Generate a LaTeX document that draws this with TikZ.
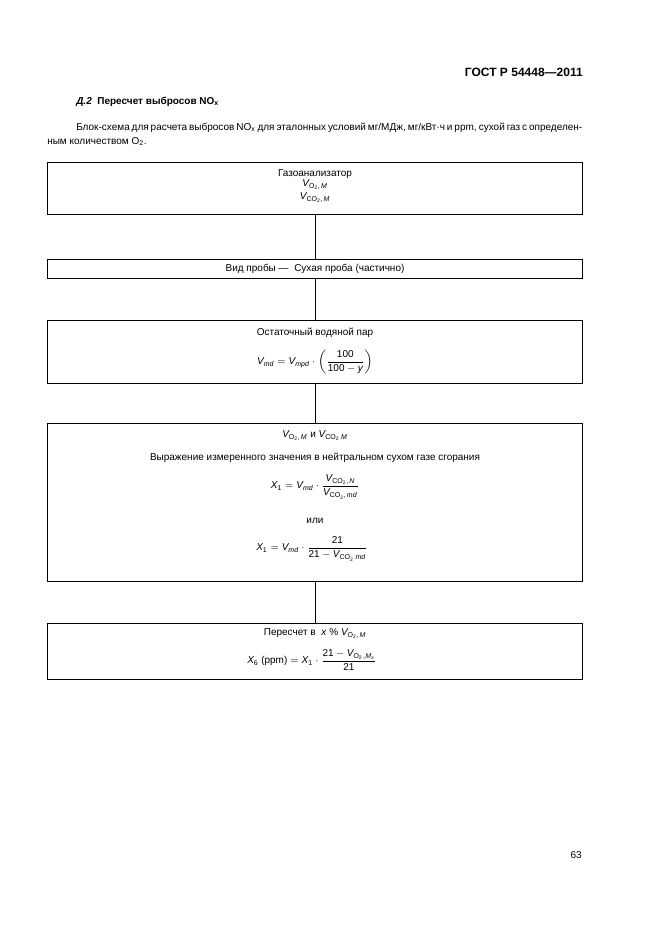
\documentclass[tikz,border=0pt]{standalone}
\usepackage{amsmath}
\usepackage{fontspec}
\setmainfont{Liberation Sans}
\newcommand{\fs}{\fontsize{7.5}{9}\selectfont}
\newcommand{\VOM}{\textit{V}_{\text{O}_{\text{2}}\text{,\,\textit{M}}}}
\newcommand{\VCOM}{\textit{V}_{\text{CO}_{\text{2}}\text{,\,\textit{M}}}}
\begin{document}
\begin{tikzpicture}[x=0.75pt,y=-0.75pt,
  box/.style={draw,line width=0.9pt,anchor=north west,minimum width=401.25pt,inner sep=0pt},
  txt/.style={font=\fs,inner sep=0pt},
  conn/.style={line width=0.9pt}]
\useasboundingbox[fill=white] (0,0) rectangle (661,936);
% header
\node[anchor=base east,inner sep=0pt,font=\bfseries\fontsize{9}{11}\selectfont] (hdr) at (583,76) {ГОСТ Р 54448—2011};
\node[anchor=base west,inner sep=0pt,font=\bfseries\fs] (sec) at (76,104) {\textit{Д.2}\ \ Пересчет выбросов NO\textsubscript{x}};
\node[anchor=base west,txt] (p1) at (76,130.5) {\makebox[379.5pt][s]{Блок-схема для расчета выбросов NO\textsubscript{x} для эталонных условий мг/МДж, мг/кВт·ч и ppm, сухой газ с определен-}};
\node[anchor=base west,txt] (p2) at (47,144) {ным количеством O\textsubscript{2}.};
% boxes
\node[box,minimum height=39pt] (b1) at (47,162) {};
\node[box,minimum height=14.25pt] (b2) at (47,259) {};
\node[box,minimum height=47.25pt] (b3) at (47,320) {};
\node[box,minimum height=118.5pt] (b4) at (47,423) {};
\node[box,minimum height=42pt] (b5) at (47,623) {};
\draw[conn] (b1.south) -- (b2.north);
\draw[conn] (b2.south) -- (b3.north);
\draw[conn] (b3.south) -- (b4.north);
\draw[conn] (b4.south) -- (b5.north);
% box 1
\node[txt,anchor=base] (t1a) at (315,176.5) {Газоанализатор};
\node[txt] (t1b) at (315,185) {$\VOM$};
\node[txt] (t1c) at (315,198) {$\VCOM$};
% box 2
\node[txt,anchor=base] (t2) at (315,271.5) {Вид пробы —\ \ Сухая проба (частично)};
% box 3
\node[txt,anchor=base] (t3a) at (315,335.5) {Остаточный водяной пар};
\node[txt] (t3b) at (315,362) {$\textit{V}_{\text{\textit{md}}} = \textit{V}_{\text{\textit{mpd}}} \cdot \left(\dfrac{\text{100}}{\text{100} - \textit{y}}\right)$};
% box 4
\node[txt] (t4a) at (315,436) {$\VOM$ и $\textit{V}_{\text{CO}_{\text{2}}\text{\ \textit{M}}}$};
\node[txt,anchor=base] (t4b) at (315,460.5) {Выражение измеренного значения в нейтральном сухом газе сгорания};
\node[txt] (t4c) at (315,487) {$\textit{X}_{\text{1}} = \textit{V}_{\text{\textit{md}}} \cdot \dfrac{\textit{V}_{\text{CO}_{\text{2}}\text{,\,\textit{N}}}}{\textit{V}_{\text{CO}_{\text{2}}\text{,\,\textit{md}}}}$};
\node[txt,anchor=base] (t4d) at (315,523.5) {или};
\node[txt] (t4e) at (312,549) {$\textit{X}_{\text{1}} = \textit{V}_{\text{\textit{md}}} \cdot \dfrac{\text{21}}{\text{21} - \textit{V}_{\text{CO}_{\text{2}}\text{\ \textit{md}}}}$};
% box 5
\node[txt] (t5a) at (315,634) {Пересчет в\ \ \textit{x}~\%~$\VOM$};
\node[txt] (t5b) at (312,660) {$\textit{X}_{\text{6}}\ \text{(ppm)} = \textit{X}_{\text{1}} \cdot \dfrac{\text{21} - \textit{V}_{\text{O}_{\text{2}},\textit{M}_{\textit{x}}}}{\text{21}}$};
% page number
\node[txt,anchor=base east] (pg) at (582,858.5) {63};
\end{tikzpicture}
\end{document}
